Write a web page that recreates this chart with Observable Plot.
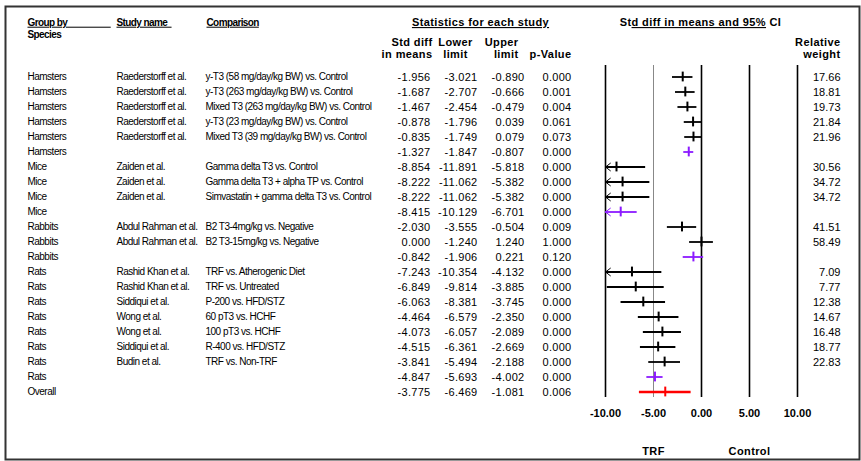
<!DOCTYPE html>
<html><head><meta charset="utf-8">
<script src="https://cdn.jsdelivr.net/npm/d3@7"></script>
<script src="https://cdn.jsdelivr.net/npm/@observablehq/plot@0.6"></script>
<style>
body{margin:0;background:#fff;}
g[aria-description="body-text"] text{letter-spacing:-0.5px;}
g[aria-description="num-text"] text{letter-spacing:0.3px;}
g[aria-description="hdr-narrow"] text{letter-spacing:-0.6px;}
g[aria-description="hdr-narrow-u"] text{letter-spacing:-0.6px;text-decoration:underline;}
g[aria-description="hdr-wide"] text{letter-spacing:0.4px;}
g[aria-description="hdr-wide-u"] text{letter-spacing:0.4px;text-decoration:underline;}
g[aria-description="ci-title"] text{letter-spacing:0.4px;}
</style></head><body><div id="chart"></div>
<script>
const species = ["Hamsters","Hamsters","Hamsters","Hamsters","Hamsters","Hamsters",
  "Mice","Mice","Mice","Mice","Rabbits","Rabbits","Rabbits",
  "Rats","Rats","Rats","Rats","Rats","Rats","Rats","Rats","Overall"];
const studies = ["Raederstorff et al.","Raederstorff et al.","Raederstorff et al.","Raederstorff et al.","Raederstorff et al.","",
  "Zaiden et al.","Zaiden et al.","Zaiden et al.","",
  "Abdul Rahman et al.","Abdul Rahman et al.","",
  "Rashid Khan et al.","Rashid Khan et al.","Siddiqui et al.","Wong et al.","Wong et al.","Siddiqui et al.","Budin et al.","",""];
const comparisons = ["y-T3 (58 mg/day/kg BW) vs. Control","y-T3 (263 mg/day/kg BW) vs. Control","Mixed T3 (263 mg/day/kg BW) vs. Control",
  "y-T3 (23 mg/day/kg BW) vs. Control","Mixed T3 (39 mg/day/kg BW) vs. Control","",
  "Gamma delta T3 vs. Control","Gamma delta T3 + alpha TP vs. Control","Simvastatin + gamma delta T3 vs. Control","",
  "B2 T3-4mg/kg vs. Negative","B2 T3-15mg/kg vs. Negative","",
  "TRF vs. Atherogenic Diet","TRF vs. Untreated","P-200 vs. HFD/STZ","60 pT3 vs. HCHF","100 pT3 vs. HCHF","R-400 vs. HFD/STZ","TRF vs. Non-TRF","",""];
const estimates = [-1.956,-1.687,-1.467,-0.878,-0.835,-1.327,-8.854,-8.222,-8.222,-8.415,-2.030,0.000,-0.842,
  -7.243,-6.849,-6.063,-4.464,-4.073,-4.515,-3.841,-4.847,-3.775];
const lowers = [-3.021,-2.707,-2.454,-1.796,-1.749,-1.847,-11.891,-11.062,-11.062,-10.129,-3.555,-1.240,-1.906,
  -10.354,-9.814,-8.381,-6.579,-6.057,-6.361,-5.494,-5.693,-6.469];
const uppers = [-0.890,-0.666,-0.479,0.039,0.079,-0.807,-5.818,-5.382,-5.382,-6.701,-0.504,1.240,0.221,
  -4.132,-3.885,-3.745,-2.350,-2.089,-2.669,-2.188,-4.002,-1.081];
const pValues = [0.000,0.001,0.004,0.061,0.073,0.000,0.000,0.000,0.000,0.000,0.009,1.000,0.120,
  0.000,0.000,0.000,0.000,0.000,0.000,0.000,0.000,0.006];
const weights = [17.66,18.81,19.73,21.84,21.96,null,30.56,34.72,34.72,null,41.51,58.49,null,
  7.09,7.77,12.38,14.67,16.48,18.77,22.83,null,null];
const kinds = ["study","study","study","study","study","summary","study","study","study","summary","study","study","summary",
  "study","study","study","study","study","study","study","summary","overall"];
const axisTicks = [-10,-5,0,5,10];
const sideLabels = ["TRF","Control"];
const sideLabelAt = [-5,5];

const rows = species.map((s,i)=>({row:i, species:s, study:studies[i], comparison:comparisons[i],
  est:estimates[i], lo:lowers[i], hi:uppers[i], p:pValues[i], w:weights[i], kind:kinds[i]}));

const f3 = d => d.toFixed(3);
const chevron = {draw(ctx, size){ const r = Math.sqrt(size/Math.PI); ctx.moveTo(r*1.3,-r); ctx.lineTo(0,0); ctx.lineTo(r*1.3,r); }};
const bodyFont = "Liberation Sans, Arial, sans-serif";
const nb = n => "\u00a0".repeat(n);

const hdr = (txt, opts) => Plot.text([txt], {text: d => d, frameAnchor: "top-left", lineAnchor: "middle", fontWeight: "bold", ...opts});

const chart = Plot.plot({
  width: 861, height: 461,
  marginLeft: 0, marginRight: 0, marginTop: 65, marginBottom: 64,
  style: {fontFamily: bodyFont, fontSize: "10px", background: "white", color: "black"},
  x: {domain: [-10,10], range: [605,797], clamp: true},
  y: {type: "band", domain: d3.range(rows.length), range: [66.4, 400.6], padding: 0, axis: null},
  color: {domain: ["study","summary","overall"], range: ["#000000","#8c1aff","#ff0000"]},
  marks: [
    Plot.frame({stroke: "#333", strokeWidth: 2, insetLeft: 5, insetRight: 2, insetTop: -59, insetBottom: -62}),
    Plot.ruleX(axisTicks.filter(d => d !== -5), {stroke: "#000", strokeWidth: 1.6}),
    Plot.ruleX(axisTicks.filter(d => d === -5), {stroke: "#888", strokeWidth: 1}),
    Plot.ruleY(rows.filter(d => d.kind !== "overall"), {y: "row", x1: "lo", x2: "hi", stroke: "kind", strokeWidth: 1.8}),
    Plot.ruleY(rows.filter(d => d.kind === "overall"), {y: "row", x1: "lo", x2: "hi", stroke: "kind", strokeWidth: 2.5}),
    Plot.tickX(rows, {x: "est", y: "row", stroke: "kind", strokeWidth: 2, insetTop: 2.6, insetBottom: 2.6}),
    Plot.dot(rows.filter(d => d.lo < -10), {x: "lo", y: "row", symbol: chevron, r: 4, stroke: "kind", fill: "none", strokeWidth: 1}),
    Plot.axisX(axisTicks, {anchor: "bottom", tickSize: 0, tickPadding: 12, label: null, tickFormat: d => d.toFixed(2), fontWeight: "bold", fontSize: 11}),
    Plot.text(sideLabels, {x: (d,i) => sideLabelAt[i], text: d => d, frameAnchor: "bottom", lineAnchor: "middle", dy: 54, fontWeight: "bold", fontSize: 11, ariaDescription: "hdr-wide"}),
    // row text
    Plot.text(rows, {y: "row", text: "species", frameAnchor: "left", dx: 27, textAnchor: "start", ariaDescription: "body-text"}),
    Plot.text(rows, {y: "row", text: "study", frameAnchor: "left", dx: 116, textAnchor: "start", ariaDescription: "body-text"}),
    Plot.text(rows, {y: "row", text: "comparison", frameAnchor: "left", dx: 205, textAnchor: "start", ariaDescription: "body-text"}),
    Plot.text(rows, {y: "row", text: d => f3(d.est), frameAnchor: "left", dx: 430, textAnchor: "end", fontSize: 11, ariaDescription: "num-text"}),
    Plot.text(rows, {y: "row", text: d => f3(d.lo), frameAnchor: "left", dx: 477, textAnchor: "end", fontSize: 11, ariaDescription: "num-text"}),
    Plot.text(rows, {y: "row", text: d => f3(d.hi), frameAnchor: "left", dx: 524, textAnchor: "end", fontSize: 11, ariaDescription: "num-text"}),
    Plot.text(rows, {y: "row", text: d => f3(d.p), frameAnchor: "left", dx: 571, textAnchor: "end", fontSize: 11, ariaDescription: "num-text"}),
    Plot.text(rows.filter(d => d.w != null), {y: "row", text: d => d.w.toFixed(2), frameAnchor: "left", dx: 840, textAnchor: "end", fontSize: 11}),
    // headers
    hdr("Group by" + nb(20), {dx: 27, dy: -43, textAnchor: "start", ariaDescription: "hdr-narrow-u"}),
    hdr("Species", {dx: 27, dy: -31, textAnchor: "start", ariaDescription: "hdr-narrow"}),
    hdr("Study name" + nb(2), {dx: 116, dy: -43, textAnchor: "start", ariaDescription: "hdr-narrow-u"}),
    hdr("Comparison", {dx: 206, dy: -43, textAnchor: "start", ariaDescription: "hdr-narrow-u"}),
    hdr("Statistics for each study", {dx: 480, dy: -43, textAnchor: "middle", fontSize: 11, ariaDescription: "hdr-wide-u"}),
    hdr("Std diff in means and 95% CI", {dx: 700, dy: -43, textAnchor: "middle", fontSize: 11, ariaDescription: "ci-title"}),
    hdr("Std diff\nin means", {dx: 432, dy: -17, textAnchor: "end", lineHeight: 1.09, fontSize: 11, ariaDescription: "hdr-wide"}),
    hdr("Lower\nlimit", {dx: 455, dy: -17, textAnchor: "middle", lineHeight: 1.09, fontSize: 11, ariaDescription: "hdr-wide"}),
    hdr("Upper\nlimit", {dx: 518, dy: -17, textAnchor: "end", lineHeight: 1.09, fontSize: 11, ariaDescription: "hdr-wide"}),
    hdr("p-Value", {dx: 571, dy: -11, textAnchor: "end", fontSize: 11, ariaDescription: "hdr-wide"}),
    hdr("Relative\nweight", {dx: 840, dy: -17, textAnchor: "end", lineHeight: 1.09, fontSize: 11, ariaDescription: "hdr-wide"})
  ]
});
document.getElementById("chart").appendChild(chart);
d3.select(chart).selectAll('g[aria-description="ci-title"] text')
  .html('St<tspan style="text-decoration:underline">d diff in means and 95%</tspan> CI');
</script></body></html>
